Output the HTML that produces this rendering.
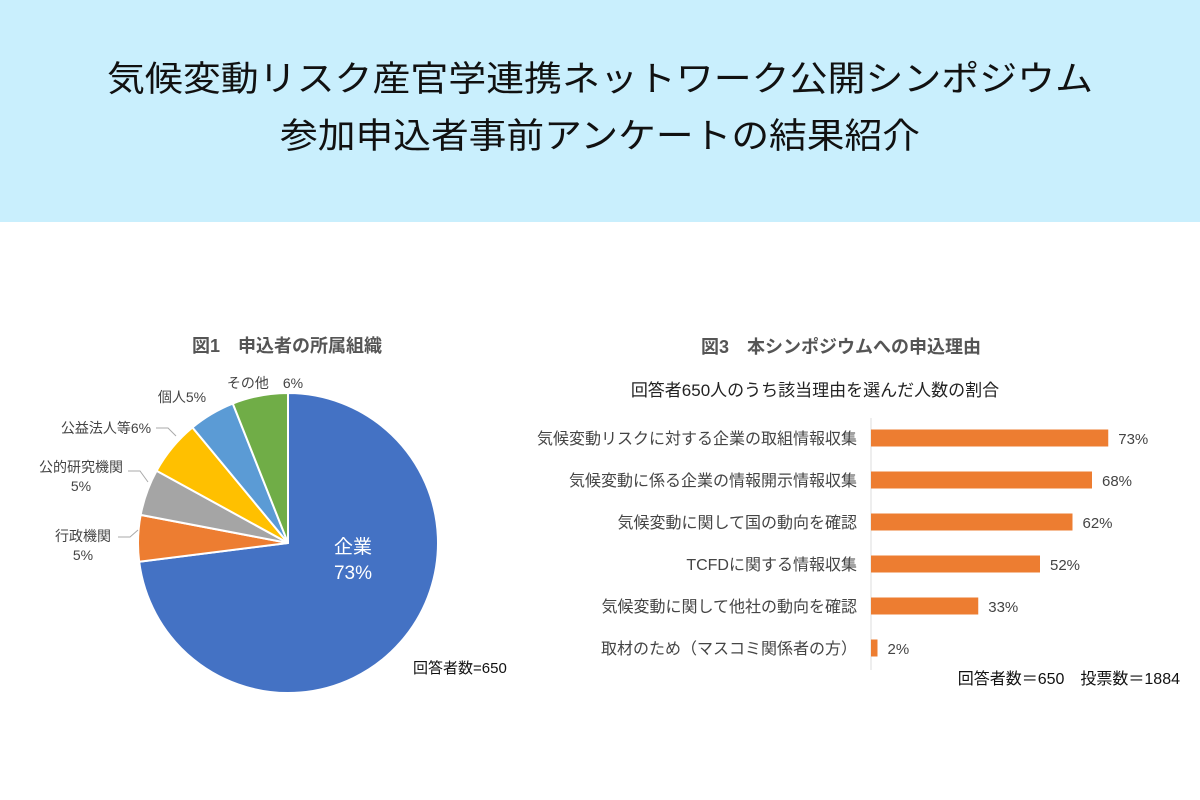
<!DOCTYPE html>
<html><head><meta charset="utf-8"><style>
html,body{margin:0;padding:0;width:1200px;height:800px;background:#fff;overflow:hidden}
svg text{font-family:"Liberation Sans","Noto Sans CJK JP",sans-serif}
</style></head><body>
<svg id="s" width="1200" height="800" xmlns="http://www.w3.org/2000/svg">
<rect x="0" y="0" width="1200" height="222" fill="#C9EFFD"/>
<text x="107" y="91" font-size="35" textLength="986" lengthAdjust="spacingAndGlyphs" fill="#111">気候変動リスク産官学連携ネットワーク公開シンポジウム</text>
<text x="280" y="148" font-size="35" textLength="640" lengthAdjust="spacingAndGlyphs" fill="#111">参加申込者事前アンケートの結果紹介</text>
<text x="287" y="352" font-size="18" font-weight="bold" text-anchor="middle" fill="#555">図1　申込者の所属組織</text>
<g id="pie"></g>
<text x="413" y="673" font-size="15" fill="#111">回答者数=650</text>
<text x="841" y="353" font-size="18" font-weight="bold" text-anchor="middle" fill="#555">図3　本シンポジウムへの申込理由</text>
<text x="815" y="396" font-size="17" text-anchor="middle" fill="#222">回答者650人のうち該当理由を選んだ人数の割合</text>
<line x1="871" y1="418" x2="871" y2="670" stroke="#ddd" stroke-width="1"/>
<g id="bars"></g>
<text x="1180" y="684" font-size="16" text-anchor="end" fill="#111">回答者数＝650　投票数＝1884</text>
</svg>
<script>
const pieCats=["企業","行政機関","公的研究機関","公益法人等","個人","その他"];
const pieVals=[73,5,5,6,5,6];
const pieColors=["#4472C4","#ED7D31","#A5A5A5","#FFC000","#5B9BD5","#70AD47"];
const barCats=["気候変動リスクに対する企業の取組情報収集","気候変動に係る企業の情報開示情報収集","気候変動に関して国の動向を確認","TCFDに関する情報収集","気候変動に関して他社の動向を確認","取材のため（マスコミ関係者の方）"];
const barVals=[73,68,62,52,33,2];
const NS="http://www.w3.org/2000/svg";
function mk(t,a,p){const e=document.createElementNS(NS,t);for(const k in a)e.setAttribute(k,a[k]);p.appendChild(e);return e;}
const pie=document.getElementById('pie');
const cx=288,cy=543,R=150;
const tot=pieVals.reduce((a,b)=>a+b,0);
let ang=0;
const pos=(a,r)=>[cx+r*Math.sin(a),cy-r*Math.cos(a)];
pieVals.forEach((v,i)=>{
  const a0=ang/tot*2*Math.PI, a1=(ang+v)/tot*2*Math.PI; ang+=v;
  const p0=pos(a0,R),p1=pos(a1,R);
  const el=mk('path',{d:`M${cx},${cy} L${p0[0]},${p0[1]} A${R},${R} 0 ${a1-a0>Math.PI?1:0} 1 ${p1[0]},${p1[1]} Z`,fill:pieColors[i],stroke:'#fff','stroke-width':2},pie);
  
  
});
const lbls=[
 {lines:["企業",pieVals[0]+"%"],x:353,y:553,c:"#fff",fs:19,lh:26},
 {lines:["行政機関",pieVals[1]+"%"],x:83,y:541,c:"#444",fs:14,lh:19},
 {lines:["公的研究機関",pieVals[2]+"%"],x:81,y:472,c:"#444",fs:14,lh:19},
 {lines:["公益法人等"+pieVals[3]+"%"],x:106,y:433,c:"#444",fs:14,lh:19},
 {lines:["個人"+pieVals[4]+"%"],x:182,y:402,c:"#444",fs:14,lh:19},
 {lines:["その他　"+pieVals[5]+"%"],x:265,y:388,c:"#444",fs:14,lh:19}
];
lbls.forEach((l,i)=>{
  l.lines.forEach((s,j)=>{
    const t=mk('text',{x:l.x,y:l.y+j*l.lh,'font-size':l.fs,'text-anchor':'middle',fill:l.c},pie);
    t.textContent=s;
    
    
  });
});
["M118,537 L130,537 L138,530","M128,471 L140,471 L148,482","M156,428 L168,428 L176,436"].forEach(d=>{
  const l=mk('path',{d:d,fill:'none',stroke:'#aaa','stroke-width':1},pie);
  
  
});
const bars=document.getElementById('bars');
const x0=871,sc=3.25,y0=438,step=42,bh=17;
barVals.forEach((v,i)=>{
  const y=y0+i*step;
  const r=mk('rect',{x:x0,y:y-bh/2,width:v*sc,height:bh,fill:'#ED7D31'},bars);
  
  
  const vt=mk('text',{x:x0+v*sc+10,y:y+6,'font-size':15,fill:'#444'},bars);
  vt.textContent=v+"%";
  
  
  const ct=mk('text',{x:857,y:y+6,'font-size':16,'text-anchor':'end',fill:'#444'},bars);
  ct.textContent=barCats[i];
  
  
});
</script>
</body></html>
